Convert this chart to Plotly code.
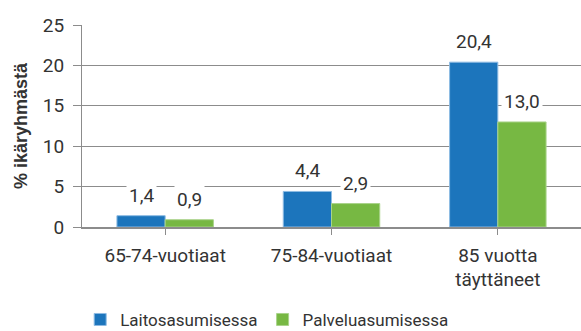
import plotly.graph_objects as go

# Age groups and shares (% of the age group)
categories = ["65-74-vuotiaat", "75-84-vuotiaat", "85 vuotta<br>täyttäneet"]
laitos = [1.4, 4.4, 20.4]
palvelu = [0.9, 2.9, 13.0]
series_names = ["Laitosasumisessa", "Palveluasumisessa"]
y_ticks = [0, 5, 10, 15, 20, 25]
y_title = "% ikäryhmästä"

BLUE = "#1C75BC"
GREEN = "#77B843"
GRID = "#8C8C8C"
TEXT = "#333333"
FONT = "Roboto, Arial Narrow, sans-serif"

fig = go.Figure()
fig.add_trace(go.Bar(
    x=list(range(len(categories))), y=laitos, name=series_names[0],
    marker=dict(color=BLUE, line=dict(color="#8DBBE3", width=1)),
))
fig.add_trace(go.Bar(
    x=list(range(len(categories))), y=palvelu, name=series_names[1],
    marker=dict(color=GREEN, line=dict(color="#A9D38A", width=1)),
))

bargap = 0.42
half = (1 - bargap) / 4  # centre offset of each bar within its group

# Value labels on white boxes that break the gridlines
for i in range(len(categories)):
    for val, off in ((laitos[i], -half), (palvelu[i], half)):
        fig.add_annotation(
            x=i + off, y=val, xref="x", yref="y",
            text=f"{val:.1f}".replace(".", ","),
            showarrow=False, yanchor="bottom", yshift=6,
            bgcolor="white", borderpad=2,
            font=dict(family=FONT, size=19, color=TEXT),
        )

# Vertical y-axis title
fig.add_annotation(
    x=-0.122, y=0.5, xref="paper", yref="paper",
    text=y_title, textangle=-90, showarrow=False,
    xanchor="center", yanchor="middle",
    font=dict(family="Liberation Sans, Arial, sans-serif", size=18, color=TEXT,
              weight="bold"),
)

fig.update_layout(
    width=581, height=331,
    margin=dict(l=82, r=0, t=25, b=104, autoexpand=False),
    paper_bgcolor="white", plot_bgcolor="white",
    barmode="group", bargap=bargap, bargroupgap=0,
    font=dict(family=FONT, size=18, color=TEXT),
    showlegend=True,
    legend=dict(
        orientation="h", xref="container", yref="paper",
        x=0.138, xanchor="left", y=-0.46, yanchor="middle",
        font=dict(family=FONT, size=17, color=TEXT),
        itemwidth=30, tracegroupgap=0,
    ),
)

fig.update_xaxes(
    tickmode="array", tickvals=list(range(len(categories))), ticktext=categories,
    range=[-0.5, len(categories) - 0.5],
    showline=True, linecolor=GRID, linewidth=1.5,
    ticks="outside", ticklen=6, tickcolor=GRID, tickwidth=1,
    tickfont=dict(family=FONT, size=19, color=TEXT),
    ticklabelstandoff=4, tickangle=0,
    showgrid=False, zeroline=False,
    tickson="boundaries",
)

fig.update_yaxes(
    range=[0, 25], tickvals=y_ticks,
    showgrid=True, gridcolor=GRID, gridwidth=1,
    showline=True, linecolor=GRID, linewidth=1,
    ticks="outside", ticklen=8, tickcolor=GRID,
    tickfont=dict(family=FONT, size=19, color=TEXT),
    ticklabelstandoff=5,
    zeroline=False,
)

fig.write_html("out.html")
